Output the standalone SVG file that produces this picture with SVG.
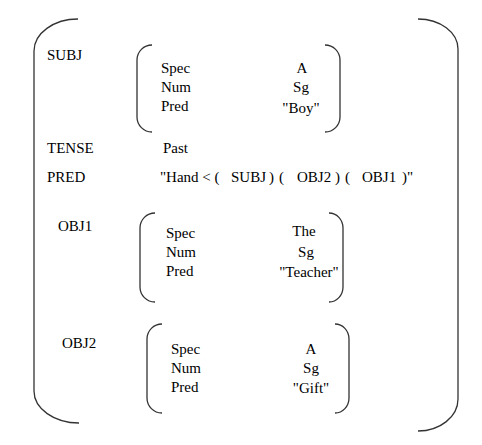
<svg xmlns="http://www.w3.org/2000/svg" width="482" height="445" viewBox="0 0 482 445">
<style>
text{font-family:"Liberation Serif","Times New Roman",serif;font-size:15px;fill:#000}
.v{text-anchor:middle}
.br{fill:none;stroke:#333;stroke-width:1.3}
</style>
<rect width="482" height="445" fill="#fff"/>
<g id="outer">
<path class="br" d="M78,19 A44,32 0 0 0 34,51 V391 A45,32 0 0 0 79,423"/>
<path class="br" d="M418,19 A40,30 0 0 1 458,49 V399 A40,32 0 0 1 418,431"/>
</g>
<g id="labels">
<text x="47" y="60">SUBJ</text>
<text x="47" y="153">TENSE</text>
<text x="163" y="153">Past</text>
<text x="47" y="182">PRED</text>
<text y="182"><tspan x="160">"Hand &lt; (</tspan><tspan x="231">SUBJ</tspan><tspan x="269">)</tspan><tspan x="279">(</tspan><tspan x="297">OBJ2</tspan><tspan x="335">)</tspan><tspan x="345">(</tspan><tspan x="362">OBJ1</tspan><tspan x="402">)"</tspan></text>
<text x="58" y="231">OBJ1</text>
<text x="62" y="348">OBJ2</text>
</g>
<g id="subj">
<path class="br" d="M152,45 A15,15 0 0 0 137,60 V117 A15,15 0 0 0 152,132"/>
<path class="br" d="M325,45 A15,15 0 0 1 340,60 V117 A15,15 0 0 1 325,132"/>
<text x="161" y="73">Spec</text>
<text x="161" y="92">Num</text>
<text x="161" y="111">Pred</text>
<text class="v" x="302" y="73">A</text>
<text class="v" x="301" y="92">Sg</text>
<text class="v" x="301" y="113">"Boy"</text>
</g>
<g id="obj1">
<path class="br" d="M155,213 A15,15 0 0 0 140,228 V287 A15,15 0 0 0 155,302"/>
<path class="br" d="M329,213 A14,15 0 0 1 343,228 V287 A14,15 0 0 1 329,302"/>
<text x="166" y="238">Spec</text>
<text x="166" y="257">Num</text>
<text x="166" y="276">Pred</text>
<text class="v" x="304" y="236">The</text>
<text class="v" x="306" y="257">Sg</text>
<text class="v" x="309" y="277">"Teacher"</text>
</g>
<g id="obj2">
<path class="br" d="M162,324 A15,15 0 0 0 147,339 V398 A15,15 0 0 0 162,413"/>
<path class="br" d="M335,324 A14,15 0 0 1 349,339 V398 A14,15 0 0 1 335,413"/>
<text x="171" y="354">Spec</text>
<text x="171" y="373">Num</text>
<text x="171" y="392">Pred</text>
<text class="v" x="311" y="354">A</text>
<text class="v" x="311" y="373">Sg</text>
<text class="v" x="311" y="393">"Gift"</text>
</g>
</svg>
